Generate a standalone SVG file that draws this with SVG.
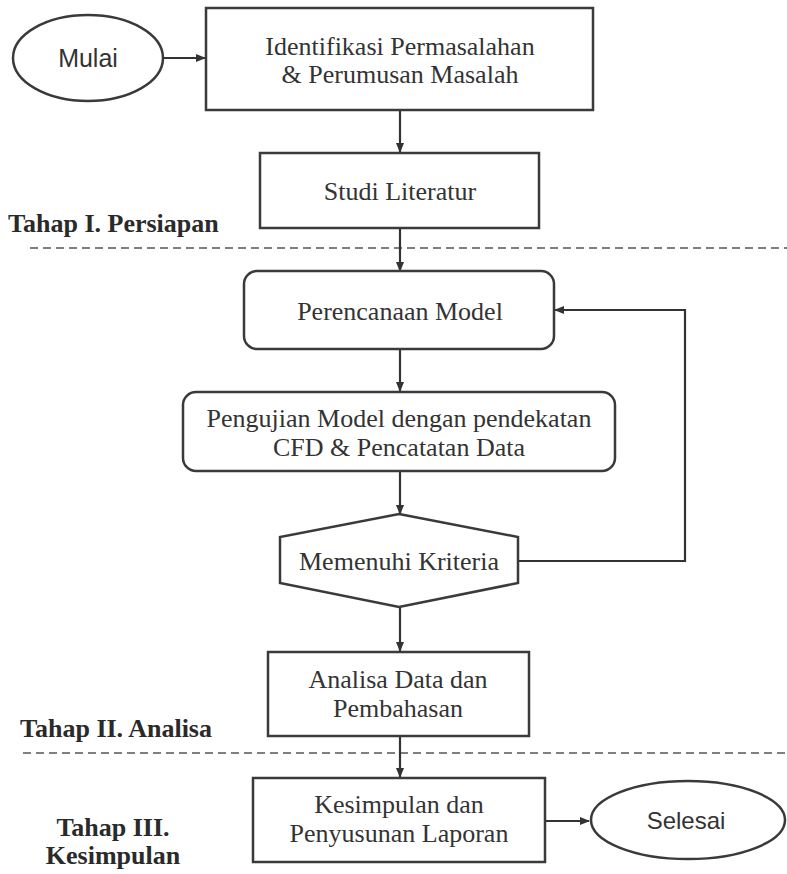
<svg xmlns="http://www.w3.org/2000/svg" width="787" height="874" viewBox="0 0 787 874">
<defs>
<marker id="ah" markerWidth="10" markerHeight="8" refX="9" refY="4" orient="auto" markerUnits="userSpaceOnUse">
<path d="M0,0 L10,4 L0,8 Z" fill="#333"/>
</marker>
<style>
.box{fill:#fff;stroke:#3a3a3a;stroke-width:2.5}
.t{font-family:"Liberation Serif","Times New Roman",serif;font-size:26px;fill:#333;text-anchor:middle}
.s{font-family:"Liberation Sans",Arial,sans-serif;font-size:24px;fill:#333;text-anchor:middle}
.lbl{font-family:"Liberation Serif","Times New Roman",serif;font-size:26px;font-weight:bold;fill:#2a2a2a}
.c{fill:none;stroke:#333;stroke-width:2.2}
.dash{stroke:#555;stroke-width:1.6;stroke-dasharray:8 5}
</style>
</defs>
<rect width="787" height="874" fill="#fff"/>

<g id="separators">
<line class="dash" x1="30" y1="248" x2="787" y2="248"/>
<line class="dash" x1="23" y1="753" x2="787" y2="753"/>
</g>

<g id="labels">
<text class="lbl" x="8" y="232">Tahap I. Persiapan</text>
<text class="lbl" x="20" y="737">Tahap II. Analisa</text>
<text class="lbl" x="113" y="836" text-anchor="middle">Tahap III.</text>
<text class="lbl" x="113" y="864" text-anchor="middle">Kesimpulan</text>
</g>

<g id="connectors">
<line class="c" x1="163" y1="58" x2="205" y2="58" marker-end="url(#ah)"/>
<line class="c" x1="400" y1="110" x2="400" y2="152" marker-end="url(#ah)"/>
<line class="c" x1="400" y1="228" x2="400" y2="271" marker-end="url(#ah)"/>
<line class="c" x1="400" y1="349" x2="400" y2="391" marker-end="url(#ah)"/>
<line class="c" x1="400" y1="471" x2="400" y2="514" marker-end="url(#ah)"/>
<polyline class="c" points="518,561 685,561 685,310 555,310" marker-end="url(#ah)"/>
<line class="c" x1="400" y1="607" x2="400" y2="651" marker-end="url(#ah)"/>
<line class="c" x1="400" y1="736" x2="400" y2="777" marker-end="url(#ah)"/>
<line class="c" x1="545" y1="821" x2="589" y2="821" marker-end="url(#ah)"/>
</g>

<g id="mulai">
<ellipse class="box" cx="88" cy="58" rx="75" ry="43"/>
<text class="s" x="88" y="67" style="font-size:25px">Mulai</text>
</g>

<g id="identifikasi">
<rect class="box" x="206" y="8" width="387" height="102"/>
<text class="t" x="400" y="55">Identifikasi Permasalahan</text>
<text class="t" x="400" y="83">&amp; Perumusan Masalah</text>
</g>

<g id="studi">
<rect class="box" x="260" y="153" width="279" height="75"/>
<text class="t" x="400" y="200">Studi Literatur</text>
</g>

<g id="perencanaan">
<rect class="box" x="244" y="271" width="310" height="78" rx="13"/>
<text class="t" x="400" y="320">Perencanaan Model</text>
</g>

<g id="pengujian">
<rect class="box" x="183" y="392" width="432" height="79" rx="13"/>
<text class="t" x="399" y="427">Pengujian Model dengan pendekatan</text>
<text class="t" x="399" y="456">CFD &amp; Pencatatan Data</text>
</g>

<g id="kriteria">
<polygon class="box" points="399,514 518,537 518,583 399,607 280,583 280,537"/>
<text class="t" x="399" y="570">Memenuhi Kriteria</text>
</g>

<g id="analisa">
<rect class="box" x="268" y="652" width="261" height="84"/>
<text class="t" x="398" y="688">Analisa Data dan</text>
<text class="t" x="398" y="717">Pembahasan</text>
</g>

<g id="kesimpulan">
<rect class="box" x="253" y="778" width="292" height="84"/>
<text class="t" x="399" y="813">Kesimpulan dan</text>
<text class="t" x="399" y="842">Penyusunan Laporan</text>
</g>

<g id="selesai">
<ellipse class="box" cx="688" cy="820" rx="97" ry="39"/>
<text class="s" x="686" y="829">Selesai</text>
</g>
</svg>
